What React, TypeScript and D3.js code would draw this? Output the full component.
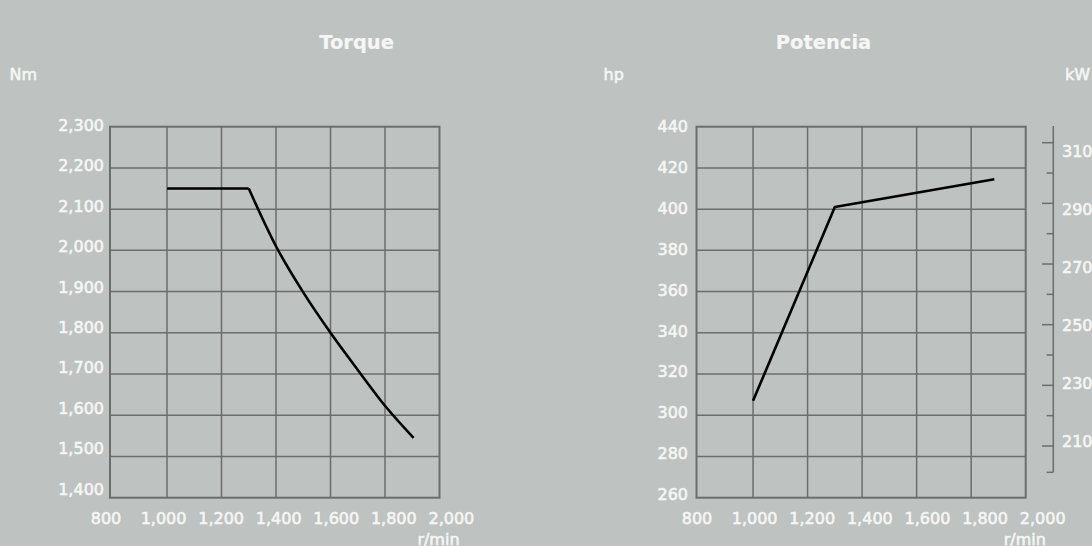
import React from "react";
import * as d3 from "d3";

// ---- data ----
const rpmTicks = [800, 1000, 1200, 1400, 1600, 1800, 2000];
const torqueTicks = [1400, 1500, 1600, 1700, 1800, 1900, 2000, 2100, 2200, 2300];
const hpTicks = [260, 280, 300, 320, 340, 360, 380, 400, 420, 440];
const kwTicks = [210, 220, 230, 240, 250, 260, 270, 280, 290, 300, 310];
const kwLabels = [210, 230, 250, 270, 290, 310];

// flat (max torque) section and falling section
const torqueFlatRpm = [1000, 1300];
const torqueFlatNm = [2150, 2150];
const torqueFallRpm = [1300, 1400, 1500, 1600, 1700, 1800, 1905];
const torqueFallNm = [2150, 2010, 1898, 1800, 1710, 1623, 1545];

const powerRpm = [1000, 1300, 1885];
const powerHp = [307, 401, 414.5];

const W = 1092;
const H = 546;
const BG = "#bec2c0";
const GRID = "#6b6e6c";
const TXT = "#f5f6f5";
const FONT = "'DejaVu Sans', sans-serif";

const fmt = d3.format(",");

// ---- layout ----
const top = 126.7;
const bottom = 497.7;
const L = { left: 110, right: 439.5 };
const R = { left: 696.5, right: 1025.7 };

const xL = d3.scaleLinear().domain([800, 2000]).range([112.5, L.right]);
const xR = d3.scaleLinear().domain([800, 2000]).range([698.5, R.right]);
const yT = d3.scaleLinear().domain([1400, 2300]).range([bottom, top]);
const yP = d3.scaleLinear().domain([260, 440]).range([bottom, top]);
const yK = d3.scaleLinear().domain([210, 310]).range([446, 142.7]);

// label placement scales (labels are evenly spaced, slightly different from grid)
const xLabL = d3.scaleLinear().domain([800, 2000]).range([106, 451.4]);
const xLabR = d3.scaleLinear().domain([800, 2000]).range([697, 1042.7]);
const yLabT = d3.scaleLinear().domain([1400, 2300]).range([489, 125]);
const yLabP = d3.scaleLinear().domain([260, 440]).range([494.2, 126.5]);
const yLabK = d3.scaleLinear().domain([210, 310]).range([440.8, 150.8]);

const textStyle: React.CSSProperties = {
  fontFamily: FONT,
  fontSize: 16,
  fill: TXT,
  stroke: TXT,
  strokeWidth: 0.6,
};

function Grid({ x, y, yTicks, xr }: { x: d3.ScaleLinear<number, number>; y: d3.ScaleLinear<number, number>; yTicks: number[]; xr: { left: number; right: number } }) {
  return (
    <g>
      {rpmTicks.slice(1, -1).map((t) => (
        <line key={"v" + t} x1={x(t)} x2={x(t)} y1={top} y2={bottom} stroke={GRID} strokeWidth={1.5} />
      ))}
      {yTicks.slice(1, -1).map((t) => (
        <line key={"h" + t} x1={xr.left} x2={xr.right} y1={y(t)} y2={y(t)} stroke={GRID} strokeWidth={1.5} />
      ))}
      <rect x={xr.left} y={top} width={xr.right - xr.left} height={bottom - top} fill="none" stroke={GRID} strokeWidth={2} />
    </g>
  );
}

export default function App() {
  const flatLine = d3
    .line<number>()
    .x((_, i) => xL(torqueFlatRpm[i]))
    .y((d) => yT(d))(torqueFlatNm);

  const fallLine = d3
    .line<number>()
    .x((_, i) => xL(torqueFallRpm[i]))
    .y((d) => yT(d))
    .curve(d3.curveMonotoneX)(torqueFallNm);

  const powerLine = d3
    .line<number>()
    .x((_, i) => xR(powerRpm[i]))
    .y((d) => yP(d))(powerHp);

  const kwAxisX = 1053.3;
  const kwTop = 126;
  const kwBottom = 472.3;

  const titleStyle: React.CSSProperties = { ...textStyle, fontSize: 19.5, fontWeight: "bold", strokeWidth: 0.2 };

  return (
    <svg width={W} height={H} style={{ position: "absolute", left: 0, top: 0, display: "block" }}>
      <rect x={0} y={0} width={W} height={H} fill={BG} />

      {/* Titles */}
      <text x={356.6} y={49} textAnchor="middle" style={titleStyle}>
        Torque
      </text>
      <text x={823.5} y={49} textAnchor="middle" style={titleStyle}>
        Potencia
      </text>
      <text x={9.5} y={80} style={textStyle}>Nm</text>
      <text x={603.5} y={80} style={textStyle}>hp</text>
      <text x={1065} y={80} style={textStyle}>kW</text>

      {/* Left chart */}
      <Grid x={xL} y={yT} yTicks={torqueTicks} xr={L} />
      {torqueTicks.map((t) => (
        <text key={t} x={104} y={yLabT(t)} dy="0.36em" textAnchor="end" style={textStyle}>
          {fmt(t)}
        </text>
      ))}
      {rpmTicks.map((t) => (
        <text key={t} x={xLabL(t)} y={524} textAnchor="middle" style={textStyle}>
          {fmt(t)}
        </text>
      ))}
      <text x={xLabL(2000) - 34} y={545} style={textStyle}>r/min</text>
      <path d={flatLine ?? ""} fill="none" stroke="#000" strokeWidth={2.6} />
      <path d={fallLine ?? ""} fill="none" stroke="#000" strokeWidth={2.6} />

      {/* Right chart */}
      <Grid x={xR} y={yP} yTicks={hpTicks} xr={R} />
      {hpTicks.map((t) => (
        <text key={t} x={688} y={yLabP(t)} dy="0.36em" textAnchor="end" style={textStyle}>
          {fmt(t)}
        </text>
      ))}
      {rpmTicks.map((t) => (
        <text key={t} x={xLabR(t)} y={524} textAnchor="middle" style={textStyle}>
          {fmt(t)}
        </text>
      ))}
      <text x={xLabR(2000) - 39} y={545} style={textStyle}>r/min</text>
      <path d={powerLine ?? ""} fill="none" stroke="#000" strokeWidth={2.6} strokeLinejoin="round" />

      {/* kW axis */}
      <line x1={kwAxisX} x2={kwAxisX} y1={kwTop} y2={kwBottom} stroke={GRID} strokeWidth={1.5} />
      {kwTicks.map((t) => {
        const major = (t - 210) % 20 === 0;
        return (
          <line key={t} x1={major ? 1042 : 1046.7} x2={kwAxisX} y1={yK(t)} y2={yK(t)} stroke={GRID} strokeWidth={1.5} />
        );
      })}
      <line x1={1046.7} x2={kwAxisX} y1={kwBottom} y2={kwBottom} stroke={GRID} strokeWidth={1.5} />
      {kwLabels.map((t) => (
        <text key={t} x={1062} y={yLabK(t)} dy="0.36em" style={textStyle}>
          {t}
        </text>
      ))}
    </svg>
  );
}
